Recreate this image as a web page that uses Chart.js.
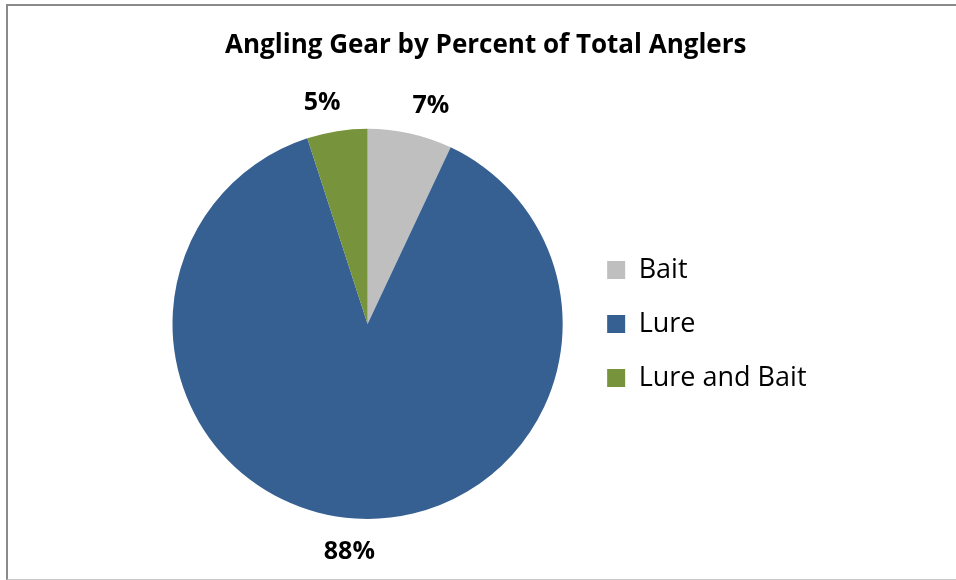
<!DOCTYPE html>
<html>
<head>
<meta charset="utf-8">
<script src="https://cdn.jsdelivr.net/npm/chart.js@4"></script>
<style>
  html, body { margin: 0; padding: 0; background: #fff; }
  #wrap { position: relative; width: 956px; height: 580px; }
  #frame {
    position: absolute; left: 6px; top: 4px; width: 960px; height: 573px;
    border-top: 2px solid #8a8a8a; border-left: 2px solid #8a8a8a;
    border-bottom: 1px solid #c8c8c8; pointer-events: none;
  }
  canvas { position: absolute; left: 0; top: 0; }
</style>
</head>
<body>
<div id="wrap">
  <canvas id="pie" width="956" height="580"></canvas>
  <div id="frame"></div>
</div>
<script>
// angling gear pie

const gear = ['Bait', 'Lure', 'Lure and Bait'];
const percent = [7, 88, 5];
const colours = ['#bfbfbf', '#376092', '#77933c'];

const fontName = '"Open Sans", sans-serif';

// percent labels just outside each slice
const outsideLabels = {
    id: 'outsideLabels',
    afterDatasetsDraw(chart) {
        const c = chart.ctx;
        const meta = chart.getDatasetMeta(0);
        c.save();
        c.font = 'bold 25px ' + fontName;
        c.fillStyle = '#000';
        c.textAlign = 'center';
        c.textBaseline = 'middle';
        meta.data.forEach(function(arc, i) {
            const p = arc.getProps(['x', 'y', 'startAngle', 'endAngle', 'outerRadius'], true);
            const mid = (p.startAngle + p.endAngle) / 2;
            const rx = p.outerRadius + 95;
            const ry = p.outerRadius + 31;
            c.fillText(percent[i] + '%', p.x + Math.cos(mid) * rx, p.y + Math.sin(mid) * ry + 2.5);
        });
        c.restore();
    }
};

const graph = new Chart(document.getElementById('pie'), {
    type: 'pie',
    data: {
        labels: gear,
        datasets: [{
            data: percent,
            backgroundColor: colours,
            borderWidth: 0
        }]
    },
    options: {
        responsive: false,
        animation: false,
        layout: {
            padding: {top: 20, left: 155, right: 139.5, bottom: 61}
        },
        plugins: {
            title: {
                display: true,
                text: 'Angling Gear by Percent of Total Anglers',
                color: '#000',
                font: {family: fontName, size: 26, weight: 'bold', lineHeight: 1.2},
                padding: {top: 10, bottom: 67.6}
            },
            legend: {
                position: 'right',
                fullSize: false,
                labels: {
                    color: '#000',
                    font: {family: fontName, size: 27},
                    boxWidth: 18,
                    boxHeight: 18,
                    padding: 27
                }
            },
            tooltip: {enabled: false}
        }
    },
    plugins: [outsideLabels]
});
</script>
</body>
</html>
